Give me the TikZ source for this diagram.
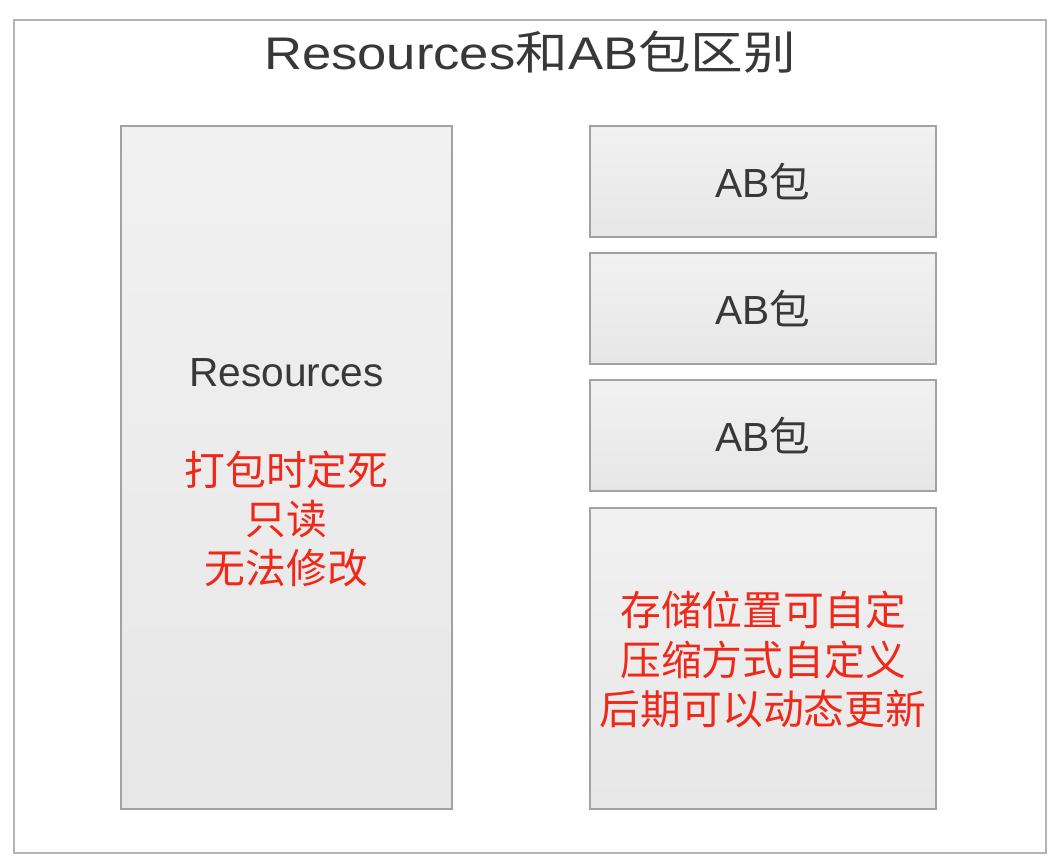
\documentclass[tikz,border=0pt]{standalone}
\usepackage{fontspec}
\setmainfont{Liberation Sans}
\newfontfamily\cjk{Noto Sans CJK SC}
\newfontfamily\titlelatin[FakeStretch=1.15]{Liberation Sans}
\newfontfamily\titlecjk[FakeStretch=1.15]{Noto Sans CJK SC}
\usetikzlibrary{shadows}
\definecolor{txt}{HTML}{383838}
\definecolor{redtxt}{HTML}{F0281A}
\definecolor{edge}{HTML}{A2A2A2}
\definecolor{framecol}{HTML}{B4B4B4}
\begin{document}
\begin{tikzpicture}[x=0.75pt,y=-0.75pt,
  panel/.style={draw=edge, line width=1.2pt, top color=gray!11, bottom color=gray!19,
    drop shadow={shadow xshift=1pt, shadow yshift=-1pt, opacity=0.12}, inner sep=0pt},
  label/.style={text=txt, font=\fontsize{30.5}{36}\selectfont},
  note/.style={text=redtxt, align=center, font=\cjk\fontsize{30.6}{36.8}\selectfont}]
\useasboundingbox (0,0) rectangle (1061,859);
\node[draw=framecol, line width=1.3pt, fill=white, minimum width=774pt, minimum height=624.75pt] (frame) at (530,436.5) {};
\node[text=txt, font=\titlelatin\fontsize{34.3}{40}\selectfont] (title) at (530,52) {Resources{\titlecjk 和}AB{\titlecjk 包区别}};
\node[panel, minimum width=248.25pt, minimum height=512.25pt] (res) at (286.5,467.5) {};
\node[label] (reslabel) at (286.5,373) {Resources};
\node[note] (resnote) at (286.5,519) {打包时定死\\只读\\无法修改};
\node[panel, minimum width=259.5pt, minimum height=83.25pt] (ab1) at (763,181.5) {};
\node[label] at (ab1) {AB{\cjk 包}};
\node[panel, minimum width=259.5pt, minimum height=83.25pt] (ab2) at (763,308.5) {};
\node[label] at (ab2) {AB{\cjk 包}};
\node[panel, minimum width=259.5pt, minimum height=83.25pt] (ab3) at (763,435.5) {};
\node[label] at (ab3) {AB{\cjk 包}};
\node[panel, minimum width=259.5pt, minimum height=225.75pt] (abinfo) at (763,658.5) {};
\node[note] (abnote) at (763,659.5) {存储位置可自定\\压缩方式自定义\\后期可以动态更新};
\end{tikzpicture}
\end{document}
